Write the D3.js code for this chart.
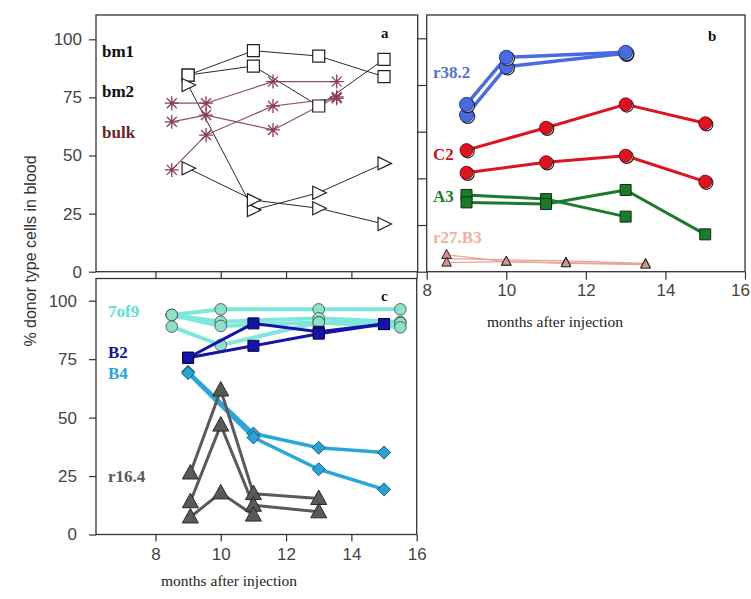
<!DOCTYPE html>
<html>
<head>
<meta charset="utf-8">
<script src="https://cdn.jsdelivr.net/npm/d3@7"></script>
<style>
  body { margin: 0; background: #fff; }
</style>
</head>
<body>
<div id="chart"></div>
<script>
// ---- panel a ----
const bm1Months = [9, 11, 13, 15];
const bm1A = [84.6, 95.1, 92.8, 83.9];
const bm1B = [84.6, 88.5, 71.3, 91.4];
const bm2Months = [9, 11, 13, 15];
const bm2A = [80.3, 26.5, 34.0, 46.6];
const bm2B = [44.5, 30.8, 27.3, 20.5];
const bulkMonths = [8.5, 9.55, 11.6, 13.55];
const bulkA = [72.5, 72.5, 81.8, 81.8];
const bulkB = [64.5, 67.4, 61.0, 75.2];
const bulkC = [43.8, 58.8, 71.3, 74.6];

// ---- panel b ----
const r38Months = [9, 10, 13];
const r38A = [71.7, 91.9, 94.0];
const r38B = [67.1, 87.8, 93.6];
const c2Months = [9, 11, 13, 15];
const c2A = [52.1, 61.7, 71.7, 63.6];
const c2B = [42.4, 46.9, 49.7, 38.6];
const a3Months = [9, 11, 13, 15];
const a3A = [32.9, 31.1, 23.6, null];
const a3B = [29.7, 29.0, 35.0, 16.0];
const r27Months = [8.5, 10, 11.5, 13.5];
const r27A = [7.2, 4.3, 3.9, 3.3];
const r27B = [5.6, null, 4.6, 3.6];
const r27C = [3.9, 4.3, 3.6, 3.0];

// ---- panel c ----
const sevenMonths = [8.5, 10, 13, 15.5];
const sevenA = [93.9, 96.3, 96.3, 96.3];
const sevenB = [93.9, 91.0, 92.5, 90.9];
const sevenC = [93.9, 89.2, 90.7, 90.4];
const sevenD = [88.9, 81.0, 90.7, 88.6];
const b2Months = [9, 11, 13, 15];
const b2A = [75.6, 90.3, 86.7, 90.0];
const b2B = [75.6, 80.7, 85.9, 90.0];
const b4Months = [9, 11, 13, 15];
const b4A = [69.6, 43.2, 37.1, 35.1];
const b4B = [69.0, 41.5, 27.9, 19.3];
const r16Months = [9.07, 10, 11, 13];
const r16A = [26.3, 61.8, 17.5, 15.4];
const r16B = [14.0, 46.8, 12.5, 9.7];
const r16C = [7.5, 17.8, 8.3, null];

const monthTicks = [8, 10, 12, 14, 16];
const pctTicksAC = [0, 25, 50, 75, 100];
const pctTicksB = [0, 20, 40, 60, 80, 100];

const width = 751, height = 599;
const serif = "'Liberation Serif', 'Times New Roman', serif";
const sans = "'Liberation Sans', Arial, sans-serif";

const svg = d3.select("#chart").append("svg")
  .attr("width", width)
  .attr("height", height)
  .attr("viewBox", [0, 0, width, height]);

svg.append("rect").attr("width", width).attr("height", height).attr("fill", "#fff");

// scales (a and c share the month scale)
const xAC = d3.scaleLinear([6.18, 16], [96, 416.7]);
const yA = d3.scaleLinear([0, 100], [271.7, 39.3]);
const xB = d3.scaleLinear([8, 16], [426.7, 745]);
const yB = d3.scaleLinear([0, 100], [271.7, 38.3]);
const yC = d3.scaleLinear([0, 100], [534.5, 300.7]);

// marker shapes
const shapes = {
  square: "M-6,-6L6,-6L6,6L-6,6Z",
  squareSmall: "M-5.5,-5.5L5.5,-5.5L5.5,5.5L-5.5,5.5Z",
  triRight: "M-6,-6.5L7.5,0L-6,6.5Z",
  star: "M-7,0L7,0M0,-7L0,7M-5,-5L5,5M-5,5L5,-5",
  triUp: "M0,-8.5L8,6L-8,6Z",
  triSmall: "M0,-5.5L4.8,3.5L-4.8,3.5Z",
  diamond: "M0,-6.5L6.5,0L0,6.5L-6.5,0Z"
};

function pairs(months, values) {
  return months.map((m, i) => [m, values[i]]).filter(d => d[1] != null);
}

function drawLine(g, x, y, months, values, color, w) {
  g.append("path")
    .datum(pairs(months, values))
    .attr("fill", "none")
    .attr("stroke", color)
    .attr("stroke-width", w)
    .attr("stroke-linejoin", "round")
    .attr("d", d3.line().x(d => x(d[0])).y(d => y(d[1])));
}

function drawMarks(g, x, y, months, values, opts) {
  const pts = pairs(months, values);
  g.selectAll(null).data(pts).enter().append("path")
    .attr("d", shapes[opts.shape])
    .attr("transform", d => `translate(${x(d[0])},${y(d[1])})`)
    .attr("fill", opts.fill)
    .attr("stroke", opts.stroke)
    .attr("stroke-width", opts.sw || 1);
}

function drawCircles(g, x, y, months, values, fill, stroke, r, shadow) {
  const pts = pairs(months, values);
  if (shadow) {
    g.selectAll(null).data(pts).enter().append("circle")
      .attr("cx", d => x(d[0]) + 1.2).attr("cy", d => y(d[1]) + 1.2).attr("r", r)
      .attr("fill", "#fff").attr("stroke", shadow).attr("stroke-width", 1.2);
  }
  g.selectAll(null).data(pts).enter().append("circle")
    .attr("cx", d => x(d[0])).attr("cy", d => y(d[1])).attr("r", r)
    .attr("fill", fill).attr("stroke", stroke).attr("stroke-width", 0.9);
}

function frame(x0, y0, x1, y1) {
  svg.append("rect")
    .attr("x", x0).attr("y", y0).attr("width", x1 - x0).attr("height", y1 - y0)
    .attr("fill", "#fff").attr("stroke", "#333").attr("stroke-width", 1.3);
}

function styleAxis(g, fontSize) {
  g.select(".domain").remove();
  g.selectAll("line").attr("stroke", "#333").attr("stroke-width", 1.2);
  g.selectAll("text").attr("font-family", sans).attr("font-size", fontSize).attr("fill", "#444");
}

function label(x, y, txt, color, size, weight, anchor) {
  svg.append("text")
    .attr("x", x).attr("y", y)
    .attr("font-family", serif)
    .attr("font-size", size)
    .attr("font-weight", weight || "bold")
    .attr("text-anchor", anchor || "start")
    .attr("fill", color)
    .text(txt);
}

// ---------- frames ----------
frame(96, 15, 417.7, 271.7);
frame(426.7, 15, 745, 271.7);
frame(96, 278.5, 416.7, 534.5);

// ---------- axes ----------
svg.append("g").attr("transform", "translate(96,0)")
  .call(d3.axisLeft(yA).tickValues(pctTicksAC).tickSize(7).tickPadding(7).tickSizeOuter(0))
  .call(g => styleAxis(g, 17));
svg.append("g").attr("transform", "translate(0,271.7)")
  .call(d3.axisBottom(xAC).tickValues(monthTicks).tickSize(7).tickFormat("").tickSizeOuter(0))
  .call(g => styleAxis(g, 17));

svg.append("g").attr("transform", "translate(426.7,0)")
  .call(d3.axisLeft(yB).tickValues(pctTicksB).tickSize(9).tickFormat("").tickSizeOuter(0))
  .call(g => styleAxis(g, 17));
svg.append("g").attr("transform", "translate(0,271.7)")
  .call(d3.axisBottom(xB).tickValues(monthTicks).tickSize(8).tickPadding(4).tickSizeOuter(0))
  .call(g => styleAxis(g, 17))
  .call(g => g.selectAll(".tick text").filter(d => d === 16).attr("dx", -5));

svg.append("g").attr("transform", "translate(96,0)")
  .call(d3.axisLeft(yC).tickValues(pctTicksAC).tickSize(7).tickPadding(12).tickSizeOuter(0))
  .call(g => styleAxis(g, 17));
svg.append("g").attr("transform", "translate(0,534.5)")
  .call(d3.axisBottom(xAC).tickValues(monthTicks).tickSize(7).tickPadding(6).tickSizeOuter(0))
  .call(g => styleAxis(g, 17));

// axis titles
svg.append("text")
  .attr("transform", "translate(36,251) rotate(-90)")
  .attr("text-anchor", "middle")
  .attr("font-family", sans)
  .attr("font-size", 16)
  .attr("fill", "#333")
  .text("% donor type cells in blood");
label(555, 327, "months after injection", "#222", 15.5, "normal", "middle");
label(229, 586, "months after injection", "#222", 15.5, "normal", "middle");

// ---------- panel a ----------
const ga = svg.append("g");
const aLine = "#2a2a2a", bulkLine = "#8a5560", bulkStar = "#8c3d52";
drawLine(ga, xAC, yA, bm1Months, bm1A, aLine, 1);
drawLine(ga, xAC, yA, bm1Months, bm1B, aLine, 1);
drawLine(ga, xAC, yA, bm2Months, bm2A, aLine, 1);
drawLine(ga, xAC, yA, bm2Months, bm2B, aLine, 1);
drawLine(ga, xAC, yA, bulkMonths, bulkA, bulkLine, 1.2);
drawLine(ga, xAC, yA, bulkMonths, bulkB, bulkLine, 1.2);
drawLine(ga, xAC, yA, bulkMonths, bulkC, bulkLine, 1.2);
drawMarks(ga, xAC, yA, bulkMonths, bulkA, {shape: "star", fill: "none", stroke: bulkStar, sw: 1.3});
drawMarks(ga, xAC, yA, bulkMonths, bulkB, {shape: "star", fill: "none", stroke: bulkStar, sw: 1.3});
drawMarks(ga, xAC, yA, bulkMonths, bulkC, {shape: "star", fill: "none", stroke: bulkStar, sw: 1.3});
drawMarks(ga, xAC, yA, bm1Months, bm1A, {shape: "square", fill: "#fff", stroke: "#222", sw: 1.2});
drawMarks(ga, xAC, yA, bm1Months, bm1B, {shape: "square", fill: "#fff", stroke: "#222", sw: 1.2});
drawMarks(ga, xAC, yA, bm2Months, bm2A, {shape: "triRight", fill: "#fff", stroke: "#222", sw: 1.2});
drawMarks(ga, xAC, yA, bm2Months, bm2B, {shape: "triRight", fill: "#fff", stroke: "#222", sw: 1.2});
label(102, 57, "bm1", "#111", 17);
label(102, 97, "bm2", "#111", 17);
label(102, 138, "bulk", "#6e1f30", 17);
label(381, 38, "a", "#111", 15);

// ---------- panel b ----------
const gb = svg.append("g");
const blue = "#4a6ae0", red = "#dc1422", green = "#1c7a2c", salmon = "#e8a394";
drawLine(gb, xB, yB, r27Months, r27A, salmon, 1.3);
drawLine(gb, xB, yB, r27Months, r27B, salmon, 1.3);
drawLine(gb, xB, yB, r27Months, r27C, salmon, 1.3);
drawMarks(gb, xB, yB, r27Months, r27A, {shape: "triSmall", fill: "#d99090", stroke: "#222", sw: 1});
drawMarks(gb, xB, yB, r27Months, r27C, {shape: "triSmall", fill: "#d99090", stroke: "#222", sw: 1});
drawLine(gb, xB, yB, a3Months, a3A, green, 3);
drawLine(gb, xB, yB, a3Months, a3B, green, 3);
drawMarks(gb, xB, yB, a3Months, a3A, {shape: "squareSmall", fill: green, stroke: "#0c3010", sw: 1});
drawMarks(gb, xB, yB, a3Months, a3B, {shape: "squareSmall", fill: green, stroke: "#0c3010", sw: 1});
drawLine(gb, xB, yB, c2Months, c2A, red, 3);
drawLine(gb, xB, yB, c2Months, c2B, red, 3);
drawCircles(gb, xB, yB, c2Months, c2A, red, "#7a0a10", 6.5, "#222");
drawCircles(gb, xB, yB, c2Months, c2B, red, "#7a0a10", 6.5, "#222");
drawLine(gb, xB, yB, r38Months, r38A, blue, 3.5);
drawLine(gb, xB, yB, r38Months, r38B, blue, 3.5);
drawCircles(gb, xB, yB, r38Months, r38B, blue, "#23338a", 7, "#222");
drawCircles(gb, xB, yB, r38Months, r38A, blue, "#23338a", 7, "#222");
label(433, 78, "r38.2", "#5a6fd0", 17);
label(433, 160, "C2", "#d0101c", 17);
label(433, 202, "A3", green, 17);
label(433, 243, "r27.B3", "#efb09e", 17);
label(708, 41, "b", "#111", 15);

// ---------- panel c ----------
const gc = svg.append("g");
const cyan = "#7fe6dc", navy = "#1414a8", sky = "#2aa6d8", gray = "#5a5a5a";
[sevenA, sevenB, sevenC, sevenD].forEach(v => drawLine(gc, xAC, yC, sevenMonths, v, cyan, 4));
[sevenA, sevenB, sevenC, sevenD].forEach(v => drawCircles(gc, xAC, yC, sevenMonths, v, "#8fe0c8", "#4a5a55", 5.8));
drawLine(gc, xAC, yC, b2Months, b2A, navy, 3);
drawLine(gc, xAC, yC, b2Months, b2B, navy, 3);
drawMarks(gc, xAC, yC, b2Months, b2A, {shape: "squareSmall", fill: navy, stroke: "#050540", sw: 1});
drawMarks(gc, xAC, yC, b2Months, b2B, {shape: "squareSmall", fill: navy, stroke: "#050540", sw: 1});
drawLine(gc, xAC, yC, b4Months, b4A, sky, 3.5);
drawLine(gc, xAC, yC, b4Months, b4B, sky, 3.5);
drawMarks(gc, xAC, yC, b4Months, b4A, {shape: "diamond", fill: "#2aa0d8", stroke: "#10506a", sw: 0.9});
drawMarks(gc, xAC, yC, b4Months, b4B, {shape: "diamond", fill: "#2aa0d8", stroke: "#10506a", sw: 0.9});
[r16A, r16B, r16C].forEach(v => drawLine(gc, xAC, yC, r16Months, v, gray, 3));
[r16A, r16B, r16C].forEach(v => drawMarks(gc, xAC, yC, r16Months, v, {shape: "triUp", fill: "#595959", stroke: "#2a2a2a", sw: 1}));
label(108, 317, "7of9", "#5fe0d0", 17);
label(108, 358, "B2", "#14149a", 17);
label(108, 379, "B4", "#2aa6d8", 17);
label(108, 482, "r16.4", "#595959", 17);
label(381, 301, "c", "#111", 15);
</script>
</body>
</html>
